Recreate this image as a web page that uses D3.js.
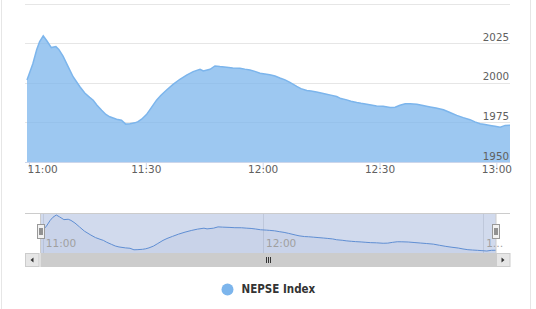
<!DOCTYPE html>
<html><head><meta charset="utf-8">
<script src="https://cdn.jsdelivr.net/npm/d3@7"></script>
<style>
html,body{margin:0;padding:0;background:#fff;}
svg{display:block;}
</style>
</head><body>
<svg id="chart" width="536" height="309"></svg>
<script>
const times = ["10:59:30","11:01:00","11:02:00","11:02:45","11:03:40","11:04:35","11:05:45","11:06:55","11:07:40","11:08:45",
"11:10:00","11:11:20","11:13:05","11:14:20","11:15:35","11:16:30","11:17:25","11:18:40","11:19:45","11:20:45",
"11:22:30","11:23:45","11:24:50","11:25:55","11:27:10","11:28:00","11:28:55","11:30:10","11:31:20","11:32:45",
"11:33:50","11:35:20","11:37:00","11:38:45","11:40:35","11:42:10","11:43:55","11:44:45","11:46:30","11:47:45",
"11:49:00","11:50:45","11:52:20","11:54:10","11:55:25","11:56:45","11:58:00","11:59:20","12:01:00","12:01:50",
"12:03:10","12:04:25","12:05:45","12:07:00","12:08:45","12:09:50","12:11:20","12:12:25","12:13:50","12:15:00",
"12:16:25","12:17:30","12:19:00","12:20:05","12:21:35","12:22:40","12:24:10","12:25:15","12:26:45","12:27:50",
"12:29:15","12:30:55","12:32:45","12:34:00","12:35:15","12:36:35","12:37:50","12:39:35","12:41:10","12:43:00",
"12:44:30","12:46:25","12:48:05","12:49:50","12:51:30","12:53:15","12:54:30","12:55:50","12:57:05","12:58:25",
"12:59:40","13:01:00","13:02:15","13:03:30"];
const values = [2001.7,2012,2021,2026,2029.6,2026.5,2022.2,2022.8,2021,2016.8,
2010.5,2003.8,1997.5,1993.5,1990.8,1989,1986,1982.7,1980,1978.5,
1977,1976.4,1973.9,1974.2,1974.7,1975.5,1977,1979.9,1984,1989,
1992,1995.4,1999,2002.2,2005,2007,2008.5,2007.4,2008.5,2010.6,
2010.2,2009.8,2009.3,2009.2,2008.6,2008.1,2007.2,2006,2005.4,2005,
2004.3,2003,2001.8,2000.2,1997.7,1996.3,1995.1,1994.8,1994.1,1993.5,
1992.8,1992.2,1991.3,1990,1989.2,1988.3,1987.5,1987,1986.5,1986,
1985.4,1985.1,1984.4,1984.6,1985.8,1986.8,1986.7,1986.4,1985.6,1984.7,
1984,1983,1981.2,1979.4,1978,1976.7,1975.3,1974.1,1973.6,1973.1,
1972.6,1972,1973.1,1973.2];
const xTickLabels = ["11:00","11:30","12:00","12:30","13:00"];
const yTickValues = [1950,1975,2000,2025,2050];
const yLabelValues = [1950,1975,2000,2025];
const navTickLabels = ["11:00","12:00","13:00"];
const navTickTexts = ["11:00","12:00","1…"];
const seriesName = "NEPSE Index";

const parse = d3.timeParse("%H:%M:%S");
const data = times.map((t,i)=>({t:parse(t), v:values[i]}));
const svg = d3.select("#chart");
const FONT = "'DejaVu Sans', sans-serif";

// container borders
svg.append("line").attr("x1",1.5).attr("x2",1.5).attr("y1",0).attr("y2",309).attr("stroke","#e6e6e6");
svg.append("line").attr("x1",530.5).attr("x2",530.5).attr("y1",0).attr("y2",309).attr("stroke","#e6e6e6");

const x = d3.scaleTime().domain(d3.extent(data,d=>d.t)).range([27,510]);
const y = d3.scaleLinear().domain([1950,2050]).range([162,3.5]);

// gridlines
svg.append("g").selectAll("line").data(yTickValues).join("line")
  .attr("x1",25).attr("x2",510)
  .attr("y1",d=>Math.round(y(d))+0.5).attr("y2",d=>Math.round(y(d))+0.5)
  .attr("stroke","#e6e6e6");

// area
const area = d3.area().x(d=>x(d.t)).y0(y(1950)).y1(d=>y(d.v));
const line = d3.line().x(d=>x(d.t)).y(d=>y(d.v));
svg.append("path").datum(data).attr("d",area).attr("fill","#7cb5ec").attr("fill-opacity",0.75);
svg.append("path").datum(data).attr("d",line).attr("fill","none").attr("stroke","#7cb5ec").attr("stroke-width",1.5);

// y labels
svg.append("g").selectAll("text").data(yLabelValues).join("text")
  .attr("x",509).attr("y",d=>y(d)-2.5).attr("text-anchor","end")
  .attr("font-family",FONT).attr("font-size","10.3px").attr("fill","#606060")
  .text(d=>d);

// x axis
const xTicks = xTickLabels.map(s=>parse(s+":00"));
const xAxis = d3.axisBottom(x).tickValues(xTicks).tickSize(7).tickFormat(d3.timeFormat("%H:%M"));
const gx = svg.append("g").attr("transform","translate(0,162)").call(xAxis);
gx.select(".domain").remove();
gx.selectAll(".tick line").attr("stroke","#ccd6eb");
gx.selectAll(".tick text").attr("font-family",FONT).attr("font-size","10.5px").attr("fill","#606060").attr("dy","0.1em").attr("y",10);
gx.selectAll(".tick text").filter((d,i)=>i===0).attr("text-anchor","start").attr("dx", function(d){return (27 - x(d))+"px";});
svg.append("line").attr("x1",25).attr("x2",510).attr("y1",162.5).attr("y2",162.5).attr("stroke","#ccd6eb");

// navigator
const navTop = 213, navBot = 253, mL = 40.5, mR = 496;
const xn = d3.scaleTime().domain(x.domain()).range([41,496]);
const yn = d3.scaleLinear().domain(d3.extent(data,d=>d.v)).range([251,215]);
const navTicks = navTickLabels.map(s=>parse(s+":00"));
svg.append("g").selectAll("line").data(navTicks).join("line")
  .attr("x1",d=>Math.round(xn(d))+0.5).attr("x2",d=>Math.round(xn(d))+0.5)
  .attr("y1",navTop).attr("y2",navBot).attr("stroke","#e6e6e6");
svg.append("rect").attr("x",mL).attr("y",navTop).attr("width",mR-mL).attr("height",navBot-navTop)
  .attr("fill","rgba(102,133,194,0.3)");
const navArea = d3.area().x(d=>xn(d.t)).y0(navBot).y1(d=>yn(d.v));
const navLine = d3.line().x(d=>xn(d.t)).y(d=>yn(d.v));
svg.append("path").datum(data).attr("d",navArea).attr("fill","#335cad").attr("fill-opacity",0.05);
svg.append("path").datum(data).attr("d",navLine).attr("fill","none").attr("stroke","#5f8ed3").attr("stroke-width",1);
svg.append("g").selectAll("text").data(navTicks).join("text")
  .attr("x",d=>xn(d)+3).attr("y",247)
  .attr("font-family",FONT).attr("font-size","10.5px").attr("fill","#a0a0a0")
  .text((d,i)=>navTickTexts[i]);
// outline
svg.append("line").attr("x1",25).attr("x2",510).attr("y1",navTop+0.5).attr("y2",navTop+0.5).attr("stroke","#cccccc");
svg.append("line").attr("x1",mL).attr("x2",mL).attr("y1",navTop).attr("y2",navBot).attr("stroke","#cccccc");
svg.append("line").attr("x1",mR).attr("x2",mR).attr("y1",navTop).attr("y2",navBot).attr("stroke","#cccccc");
// handles
[mL,mR].forEach(hx=>{
  const g = svg.append("g").attr("transform",`translate(${Math.round(hx)-4},224)`);
  g.append("rect").attr("x",0.5).attr("y",0.5).attr("width",7).attr("height",14).attr("fill","#f2f2f2").attr("stroke","#999999");
  g.append("line").attr("x1",3).attr("x2",3).attr("y1",4).attr("y2",11).attr("stroke","#333");
  g.append("line").attr("x1",5).attr("x2",5).attr("y1",4).attr("y2",11).attr("stroke","#333");
});

// scrollbar
const sbTop = 253, sbH = 14;
svg.append("rect").attr("x",25).attr("y",sbTop).attr("width",485).attr("height",sbH).attr("fill","#f2f2f2");
svg.append("rect").attr("x",mL).attr("y",sbTop).attr("width",mR-mL).attr("height",sbH).attr("fill","#cccccc");
// rifles
[-2,0,2].forEach(o=>{
  svg.append("line").attr("x1",Math.round((mL+mR)/2)+o+0.5).attr("x2",Math.round((mL+mR)/2)+o+0.5)
    .attr("y1",sbTop+4).attr("y2",sbTop+10).attr("stroke","#333");
});
// buttons
[[25,-1],[496,1]].forEach(([bx,dir])=>{
  svg.append("rect").attr("x",bx+0.5).attr("y",sbTop+0.5).attr("width",13.5).attr("height",sbH-1)
    .attr("fill","#e6e6e6").attr("stroke","#cccccc");
  const cx = bx+7, cy = sbTop+7;
  const p = dir<0 ? `M${cx+1.5},${cy-2.5}L${cx-1.5},${cy}L${cx+1.5},${cy+2.5}Z` : `M${cx-1.5},${cy-2.5}L${cx+1.5},${cy}L${cx-1.5},${cy+2.5}Z`;
  svg.append("path").attr("d",p).attr("fill","#333");
});

// legend
svg.append("circle").attr("cx",227.5).attr("cy",289.5).attr("r",6).attr("fill","#7cb5ec");
svg.append("text").attr("x",241.5).attr("y",293).attr("font-family","'DejaVu Sans Condensed','Liberation Sans',sans-serif")
  .attr("font-size","11.5px").attr("font-weight","bold").attr("fill","#333333").text(seriesName);
</script>
</body></html>
